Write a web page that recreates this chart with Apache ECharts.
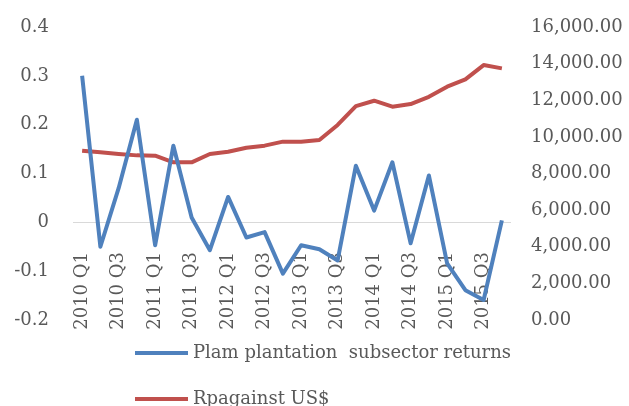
<!DOCTYPE html>
<html>
<head>
<meta charset="utf-8">
<script src="https://cdn.jsdelivr.net/npm/echarts@6/dist/echarts.min.js"></script>
<style>html,body{margin:0;padding:0;background:#fff;}#c{width:629px;height:406px;}</style>
</head>
<body>
<div id="c"></div>
<script>
const categories = ["2010 Q1","2010 Q2","2010 Q3","2010 Q4","2011 Q1","2011 Q2","2011 Q3","2011 Q4",
  "2012 Q1","2012 Q2","2012 Q3","2012 Q4","2013 Q1","2013 Q2","2013 Q3","2013 Q4",
  "2014 Q1","2014 Q2","2014 Q3","2014 Q4","2015 Q1","2015 Q2","2015 Q3","2015 Q4"];
const palmReturns = [0.30, -0.05, 0.07, 0.21, -0.047, 0.157, 0.01, -0.057,
  0.052, -0.031, -0.02, -0.105, -0.047, -0.055, -0.078, 0.116,
  0.024, 0.123, -0.043, 0.096, -0.084, -0.139, -0.159, 0.004];
const rpPerUsd = [9245, 9155, 9065, 8990, 8970, 8610, 8610, 9065,
  9190, 9410, 9520, 9740, 9740, 9830, 10650, 11680,
  11975, 11650, 11790, 12190, 12740, 13140, 13920, 13740];
const seriesNames = ["Plam plantation  subsector returns", "Rpagainst US$"];

const FONT = "DejaVu Serif";
const TXT = "#595959";
const legendBase = {
  orient: "horizontal", left: 135,
  itemWidth: 53, itemHeight: 4, itemGap: 5,
  icon: "rect", padding: 0,
  textStyle: {fontFamily: FONT, fontSize: 18, color: TXT, padding: [0,0,0,0]}
};
const chart = echarts.init(document.getElementById("c"), null, {renderer: "canvas"});
chart.setOption({
  animation: false,
  backgroundColor: "#fff",
  grid: {left: 73, right: 118, top: 27, bottom: 86, containLabel: false},
  legend: [
    Object.assign({}, legendBase, {top: 344, data: [seriesNames[0]]}),
    Object.assign({}, legendBase, {top: 390, data: [seriesNames[1]]})
  ],
  xAxis: {
    type: "category", data: categories, boundaryGap: true,
    axisLine: {show: false}, axisTick: {show: false}, splitLine: {show: false},
    axisLabel: {interval: 1, rotate: 90, margin: -68, fontFamily: FONT, fontSize: 18, color: TXT}
  },
  yAxis: [{
    type: "value", min: -0.2, max: 0.4, interval: 0.1,
    axisLine: {show: false}, axisTick: {show: false}, splitLine: {show: false},
    axisLabel: {margin: 24, fontFamily: FONT, fontSize: 18, color: TXT,
      formatter: v => String(Math.round(v * 10) / 10)}
  }, {
    type: "value", min: 0, max: 16000, interval: 2000, position: "right",
    axisLine: {show: false}, axisTick: {show: false}, splitLine: {show: false},
    axisLabel: {margin: 20, fontFamily: FONT, fontSize: 18, color: TXT,
      formatter: v => v.toLocaleString("en-US", {minimumFractionDigits: 2, maximumFractionDigits: 2})}
  }],
  series: [{
    name: seriesNames[0], type: "line", data: palmReturns, yAxisIndex: 0,
    symbol: "none", itemStyle: {color: "#4f81bd"},
    lineStyle: {color: "#4f81bd", width: 4, join: "round"},
    z: 3,
    markLine: {silent: true, symbol: "none", label: {show: false},
      lineStyle: {color: "#d9d9d9", width: 1, type: "solid"},
      data: [{yAxis: 0}], z: 1}
  }, {
    name: seriesNames[1], type: "line", data: rpPerUsd, yAxisIndex: 1,
    symbol: "none", itemStyle: {color: "#c0504d"},
    lineStyle: {color: "#c0504d", width: 4, join: "round"},
    z: 2
  }]
});
</script>
</body>
</html>
